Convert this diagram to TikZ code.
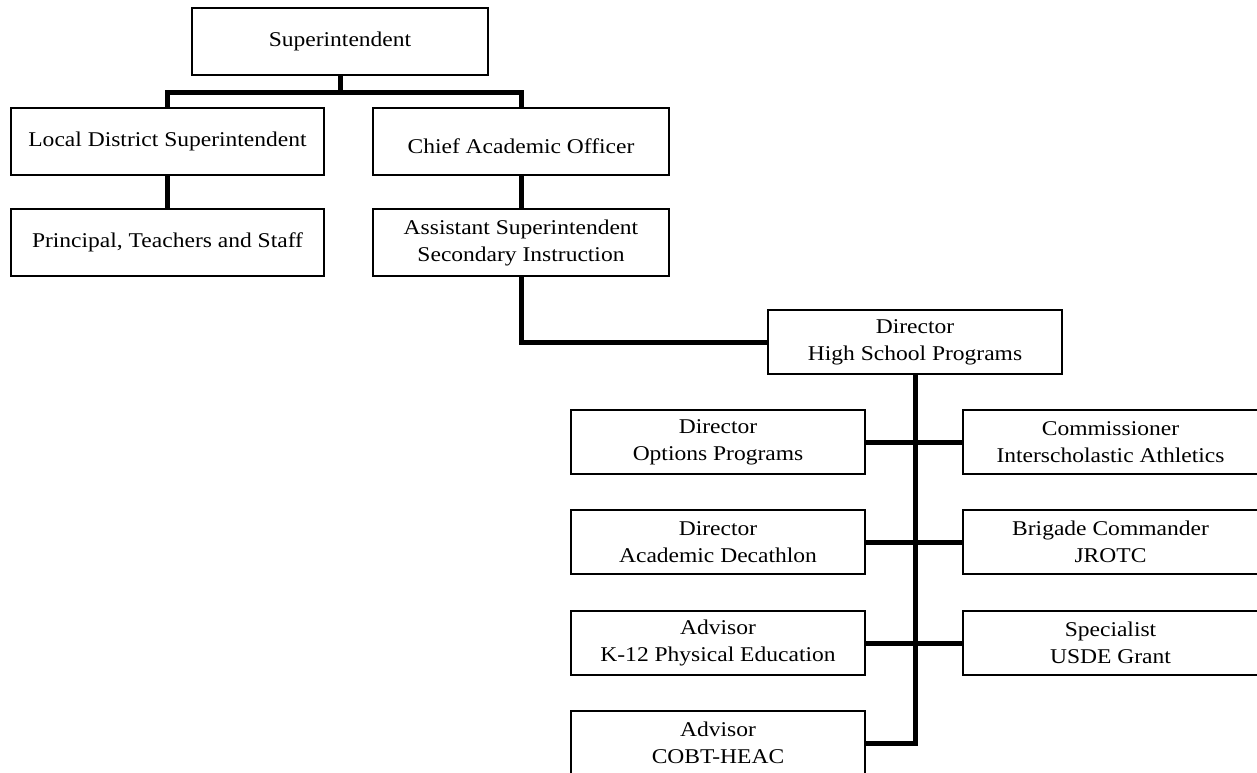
\documentclass[tikz,border=0pt]{standalone}
\usepackage{fontspec}
\setmainfont{Liberation Serif}[FakeStretch=1.12]
\begin{document}
\begin{tikzpicture}[x=1pt,y=-1pt,
  post/.style={draw=black,line width=1.2pt,fill=white,inner sep=0pt,align=center,
    font=\fontsize{21}{27}\selectfont},
  wide/.style={post,minimum width=313pt,minimum height=67pt},
  mid/.style={post,minimum width=296pt,minimum height=67pt},
  unit/.style={post,minimum width=294pt,minimum height=64pt},
  conn/.style={line width=5pt,line join=miter}]
\useasboundingbox (0,0) rectangle (1257,772);
\clip (0,0) rectangle (1257,772);

% upper levels
\node[mid]  (super) at (340,41.5)  {Superintendent};
\node[wide] (local) at (167.5,141.5) {Local District Superintendent};
\node[mid,text height=24pt,text depth=0pt] (chief) at (521,141.5) {Chief Academic Officer};
\node[wide] (princ) at (167.5,242.5) {Principal, Teachers and Staff};
\node[mid]  (asst)  at (521,242.5) {Assistant Superintendent\\Secondary Instruction};
\node[unit] (dhsp)  at (915,342)   {Director\\High School Programs};

% programs under the high school director
\node[unit] (opt)  at (718,442)    {Director\\Options Programs};
\node[unit,minimum width=295pt] (comm) at (1110.5,442) {Commissioner\\Interscholastic Athletics};
\node[unit] (acad) at (718,542)    {Director\\Academic Decathlon};
\node[unit,minimum width=295pt] (brig) at (1110.5,542) {Brigade Commander\\JROTC};
\node[unit] (k12)  at (718,643)    {Advisor\\K-12 Physical Education};
\node[unit,minimum width=295pt] (spec) at (1110.5,643) {Specialist\\USDE Grant};
\node[unit] (cobt) at (718,743)    {Advisor\\COBT-HEAC};

% reporting lines
\coordinate (bar) at (340,92);
\draw[conn] (super.south) -- (bar);
\draw[conn] (local.north) |- (bar) -| (chief.north);
\draw[conn] (local.south) -- (princ.north);
\draw[conn] (chief.south) -- (asst.north);
\draw[conn] (asst.south) |- (dhsp.west);
\draw[conn] (dhsp.south) |- (cobt.east);
\draw[conn] (opt.east)  -- (comm.west);
\draw[conn] (acad.east) -- (brig.west);
\draw[conn] (k12.east)  -- (spec.west);
\end{tikzpicture}
\end{document}
